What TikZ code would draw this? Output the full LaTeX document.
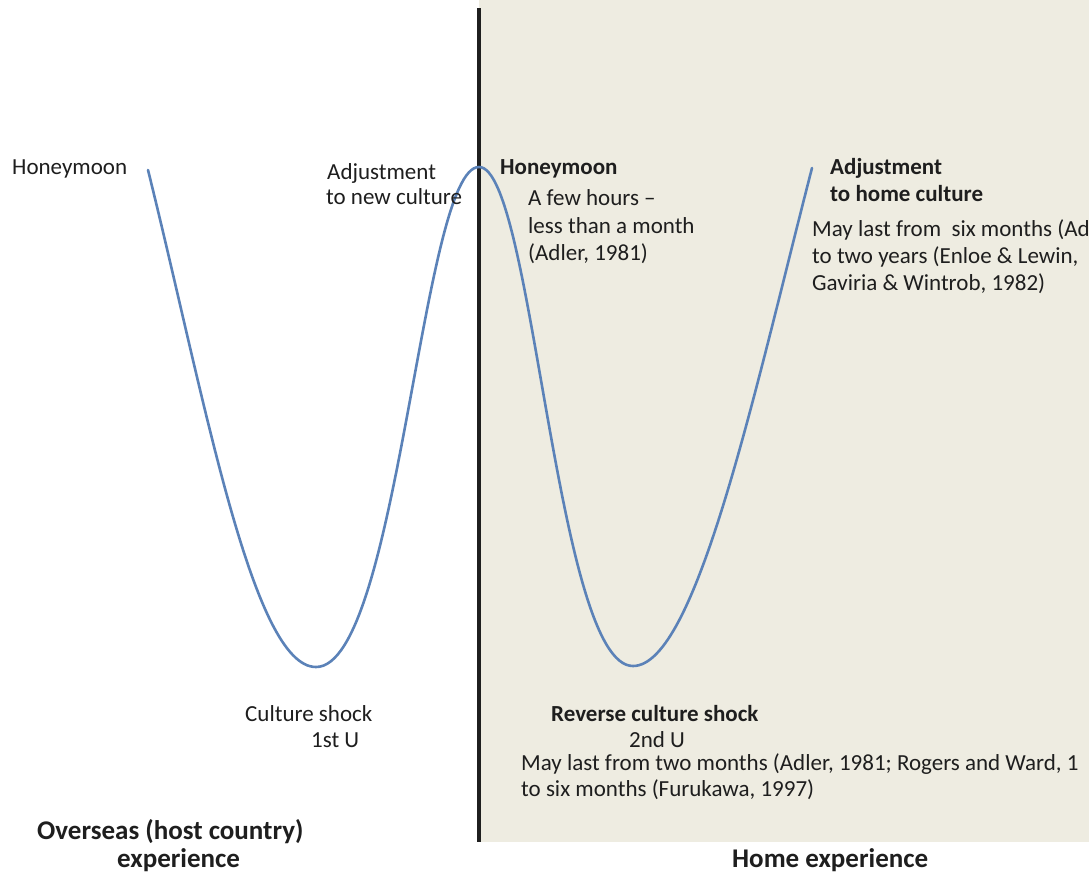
\documentclass[tikz,border=0pt]{standalone}
\usepackage{fontspec}
\setmainfont{Carlito}
\definecolor{beige}{HTML}{EEECE1}
\definecolor{curveblue}{HTML}{5B82B8}
\definecolor{txt}{HTML}{1E1E1E}
\tikzset{
  lbl/.style={anchor=base west, inner sep=0pt, text=txt, font=\fontsize{23}{27.5}\selectfont},
  blbl/.style={lbl, font=\fontsize{23}{27.5}\selectfont\bfseries},
  biglbl/.style={lbl, font=\fontsize{27}{32}\selectfont\bfseries},
  curve/.style={draw=curveblue, line width=2.6pt, line cap=round, line join=round},
  divider/.style={draw=black!88, line width=4pt}
}
\begin{document}
\begin{tikzpicture}[x=1pt, y=-1pt]
\useasboundingbox (0,0) rectangle (1089,873);
\clip (0,0) rectangle (1089,873);
\fill[white] (0,0) rectangle (1089,873);
\fill[beige] (479,0) rectangle (1089,842);
\coordinate (top) at (479,8);
\coordinate (bot) at (479,842);
\draw[divider] (top) -- (bot);
\coordinate (s0) at (148,170);
\coordinate (b1) at (316,667);
\coordinate (p1) at (479,167);
\coordinate (b2) at (633,666);
\coordinate (e0) at (812,168);
\draw[curve] (s0) .. controls (204,395) and (252,667) .. (b1)
  .. controls (398,667) and (422,167) .. (p1)
  .. controls (533,167) and (556,666) .. (b2)
  .. controls (696,666) and (754,393) .. (e0);
% left side labels
\node[lbl] (hmA) at (12,174) {Honeymoon};
\node[lbl] (adjA1) at (327,179) {Adjustment};
\node[lbl] (adjA2) at (326,204) {to new culture};
\node[lbl] (csA) at (245,721) {Culture shock};
\node[lbl] (uA) at (311,747) {1st U};
\node[biglbl] (ovA) at (37,839) {Overseas (host country)};
\node[biglbl] (ovB) at (117,867) {experience};
% right side labels
\node[blbl] (hmB) at (500,174) {Honeymoon};
\node[lbl] (hmB1) at (528,205) {A few hours --};
\node[lbl] (hmB2) at (528,233) {less than a month};
\node[lbl] (hmB3) at (528,260) {(Adler, 1981)};
\node[blbl] (adjB1) at (830,174) {Adjustment};
\node[blbl] (adjB2) at (830,201) {to home culture};
\node[lbl] (adjB3) at (812,236) {May last from\ \ six months (Ad};
\node[lbl] (adjB4) at (812,263) {to two years (Enloe \& Lewin,};
\node[lbl] (adjB5) at (812,290) {Gaviria \& Wintrob, 1982)};
\node[blbl] (rcs) at (551,721) {Reverse culture shock};
\node[lbl] (uB) at (629,747) {2nd U};
\node[lbl] (rcs1) at (521,770) {May last from two months (Adler, 1981; Rogers and Ward, 1};
\node[lbl] (rcs2) at (521,796) {to six months (Furukawa, 1997)};
\node[biglbl] (home) at (732,867) {Home experience};
\end{tikzpicture}
\end{document}
